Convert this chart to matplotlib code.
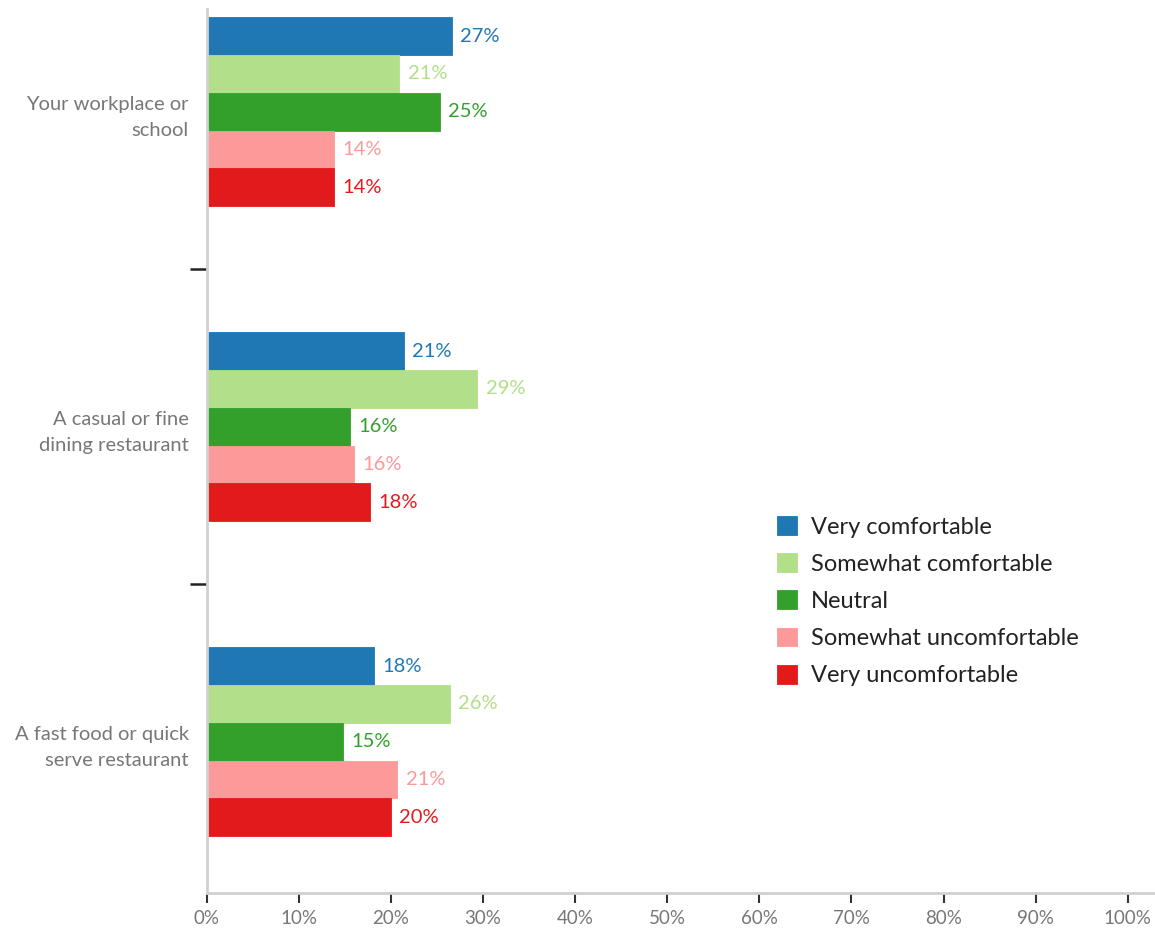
import matplotlib
matplotlib.use("Agg")
import matplotlib.pyplot as plt
import numpy as np

plt.rcParams['font.family'] = ['Lato', 'DejaVu Sans']

# Survey responses: share of respondents per comfort level (%)
categories = ["Your workplace or\nschool",
              "A casual or fine\ndining restaurant",
              "A fast food or quick\nserve restaurant"]
responses = ["Very comfortable", "Somewhat comfortable", "Neutral",
             "Somewhat uncomfortable", "Very uncomfortable"]
very_comfortable = [26.6, 21.4, 18.2]
somewhat_comfortable = [20.9, 29.4, 26.4]
neutral = [25.3, 15.6, 14.8]
somewhat_uncomfortable = [13.8, 16.0, 20.7]
very_uncomfortable = [13.8, 17.7, 20.0]
x_ticks = [0, 10, 20, 30, 40, 50, 60, 70, 80, 90, 100]

series = [very_comfortable, somewhat_comfortable, neutral,
          somewhat_uncomfortable, very_uncomfortable]
colors = ["#1f78b4", "#b2df8a", "#33a02c", "#fb9a99", "#e31a1c"]

W, H = 1155, 931
fig = plt.figure(figsize=(W / 100, H / 100), dpi=100)
ax = fig.add_axes([206.7 / W, 38 / H, 1 - 206.7 / W, (893 - 9) / H])

bar_h = 0.12
pos = np.arange(len(categories))
handles = []
for i, (vals, col, name) in enumerate(zip(series, colors, responses)):
    y = pos - 2 * bar_h + i * bar_h
    bars = ax.barh(y, vals, height=bar_h, color=col, edgecolor=col,
                   linewidth=0.6, label=name, zorder=2)
    handles.append(bars)
    for yy, v in zip(y, vals):
        ax.annotate(f"{v:.0f}%", xy=(v, yy), xytext=(6.0, 0),
                    textcoords="offset points", va="center", ha="left",
                    color=col, fontsize=14.5)

ax.set_xlim(0, (W - 206.7) / 9.21)
ax.set_ylim(2.48, -0.326)

ax.set_xticks(x_ticks)
ax.set_xticklabels([f"{t}%" for t in x_ticks])
ax.tick_params(axis="x", length=7, width=1.5, color="#333333",
               labelcolor="#777777", labelsize=13.5, pad=5)

# Boundary ticks between groups, category names at group centres
ax.set_yticks([0.5, 1.5])
ax.set_yticklabels([])
ax.tick_params(axis="y", which="major", length=12, width=1.8, color="#222222")
ax.set_yticks(pos, minor=True)
ax.set_yticklabels(categories, minor=True, linespacing=1.6)
ax.tick_params(axis="y", which="minor", length=0, pad=13,
               labelcolor="#777777", labelsize=14.5)

for s in ["top", "right"]:
    ax.spines[s].set_visible(False)
for s in ["left", "bottom"]:
    ax.spines[s].set_color("#d0d0d0")
    ax.spines[s].set_linewidth(2)

fig.legend(handles=handles, labels=responses, loc="upper left",
           bbox_to_anchor=(777 / W, 1 - 516 / H), frameon=False,
           fontsize=17, handlelength=0.85, handleheight=0.85,
           handletextpad=0.6, labelspacing=0.66, borderpad=0,
           borderaxespad=0, labelcolor="#222222")

fig.savefig("out.png", dpi=100)
